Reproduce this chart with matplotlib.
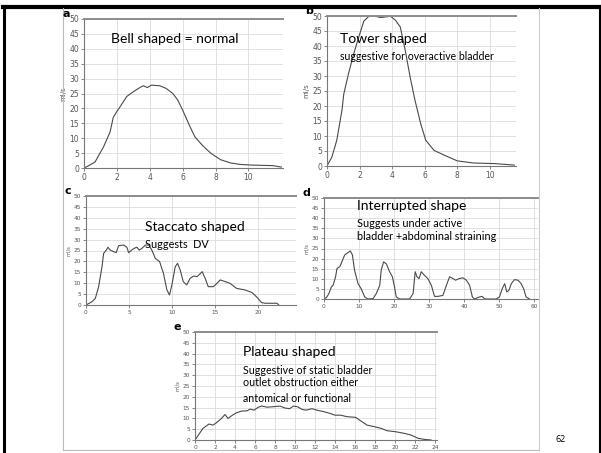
import matplotlib
matplotlib.use("Agg")
import matplotlib.pyplot as plt
from matplotlib.lines import Line2D

# ── Data ──────────────────────────────────────────────────────────────────────

bell_t = [0, 0.26, 0.67, 1.18, 1.58, 1.78, 2.0, 2.19, 2.6, 3.0, 3.4, 3.6, 3.85,
          4.1, 4.6, 5.0, 5.4, 5.7, 6.0, 6.45, 6.75, 7.2, 7.7, 8.3, 8.9, 9.5,
          10.1, 10.7, 11.5, 12.0]
bell_q = [0, 0.7, 2, 7, 12, 17, 19, 20.5, 24, 25.6, 27, 27.6, 27, 27.8, 27.6,
          26.7, 25, 22.8, 19.4, 13.8, 10.4, 7.6, 5, 2.8, 1.7, 1.2, 1, 0.9, 0.8,
          0.3]

tower_t = [0, 0.3, 0.6, 0.92, 1.03, 1.33, 1.64, 1.95, 2.26, 2.57, 2.87, 3.3,
           3.9, 4.2, 4.5, 4.8, 5.1, 5.4, 5.75, 6.06, 6.57, 7.2, 8.0, 9.0, 10.3,
           11.5]
tower_q = [0, 3, 8.6, 18.6, 24, 31, 37.4, 43, 48.3, 49.9, 50, 49.5, 49.9, 48.6,
           46.3, 38.6, 29.7, 21.9, 14.1, 8.6, 5.2, 3.6, 1.7, 1, 0.8, 0.3]

stacc_t = [0, 0.7, 1.08, 1.47, 1.86, 2.05, 2.36, 2.55, 2.82, 3.2, 3.5, 3.8, 4.4,
           4.75, 4.95, 5.3, 5.6, 5.9, 6.2, 6.5, 6.9, 7.3, 7.65, 8.05, 8.55, 9.0,
           9.4, 9.7, 9.98, 10.37, 10.64, 10.95, 11.3, 11.7, 12.1, 12.5, 12.9,
           13.3, 13.5, 13.85, 14.2, 14.8, 15.2, 15.6, 16.2, 16.75, 17.5, 18.5,
           19.3, 19.8, 20.4, 20.8, 22.2, 22.4]
stacc_q = [0, 1.5, 3, 8.4, 17.6, 23.7, 25.2, 26.5, 25.2, 24.5, 24, 27.2, 27.5,
           26.5, 24, 25.2, 26, 26.5, 25.2, 26, 27.5, 27.5, 25.2, 21.4, 19.9,
           14.5, 6.9, 4.6, 9.2, 17.6, 19.1, 16, 10.7, 9.2, 12.2, 13.3, 13, 14.5,
           15.3, 12.2, 8.4, 8.4, 9.9, 11.5, 10.7, 9.9, 7.6, 6.9, 5.7, 3.8, 1.1,
           0.8, 0.8, 0]

inter_t = [0, 0.7, 1.4, 2.1, 2.6, 3.3, 3.7, 4.5, 5.1, 5.9, 6.8, 7.5, 8.1, 8.7,
           9.7, 10.6, 11.6, 12.5, 14, 14.9, 15.9, 16.3, 17, 17.8, 18.7, 19.5,
           20.1, 20.6, 21.6, 24.4, 25.4, 26, 26.5, 27.1, 27.7, 28.6, 29.6, 30.6,
           31.5, 32.5, 33.9, 34.9, 35.8, 36.8, 37.5, 38.5, 39.6, 40.6, 41.5,
           42.3, 42.9, 44.3, 45.1, 45.8, 49.1, 50, 50.8, 51.5, 52.1, 52.7, 53.4,
           54.3, 55.3, 56.2, 56.9, 57.6, 58.6]
inter_q = [0, 0.7, 2.7, 6, 6.8, 11, 15.1, 16, 18.4, 21.8, 22.9, 23.8, 21.8,
           14.3, 7.6, 5.1, 1, 0, 0.2, 2.7, 6.8, 14.3, 18.4, 17.3, 13.5, 11, 6,
           1, 0, 0, 2.7, 13.5, 11, 10.1, 13.5, 11.8, 10.1, 6.8, 1.3, 1.3, 1.8,
           6.8, 11, 10.1, 9.3, 10.1, 10.5, 9.3, 6.8, 1, 0, 1, 1.3, 0, 0, 1, 5.1,
           7.6, 3.5, 4.3, 7.6, 9.6, 9.3, 7.6, 5.1, 1, 0]

plat_t = [0, 0.8, 1.4, 1.8, 2.15, 2.65, 3.0, 3.3, 3.75, 4.15, 4.66, 5.2, 5.5,
          5.9, 6.3, 6.67, 7.2, 7.8, 8.5, 9.0, 9.45, 9.85, 10.25, 10.7, 11.1,
          11.7, 12.2, 12.9, 13.5, 14.0, 14.55, 15.2, 16.05, 16.56, 17.2, 17.9,
          18.6, 19.2, 20.1, 20.9, 21.6, 22.3, 22.9, 23.6]
plat_q = [0, 5.4, 7.4, 6.9, 8, 10, 11.8, 10, 11.5, 12.6, 13.4, 13.5, 14.3, 13.8,
          15.1, 15.7, 15.2, 15.4, 15.7, 14.8, 14.5, 15.7, 15.4, 14.2, 13.8, 14.5,
          13.8, 13.1, 12.3, 11.5, 11.5, 10.8, 10.5, 8.9, 6.9, 6.2, 5.4, 4.3, 3.8,
          3.1, 2.3, 0.8, 0.3, 0]

# ── Figure and slide frame ────────────────────────────────────────────────────

W, H = 601, 453
fig = plt.figure(figsize=(W / 100, H / 100), dpi=100)

def px_line(xs, ys, color, lw):
    fig.add_artist(Line2D([x / W for x in xs], [1 - y / H for y in ys],
                          color=color, lw=lw, transform=fig.transFigure))

px_line([3.5, 3.5], [6, 453], "black", 2.2)       # outer slide border
px_line([599.5, 599.5], [6, 453], "black", 1.5)
px_line([3, 600], [7, 7], "black", 3)
px_line([63, 63], [8, 450], "#bbbbbb", 0.8)       # picture frame
px_line([539, 539], [8, 450], "#cccccc", 0.8)
px_line([63, 539], [450, 450], "#bbbbbb", 0.8)

fig.text(561 / W, 1 - 440 / H, "62", fontsize=6.5, family="Open Sans",
         ha="center", va="center")

# ── Panel helper ──────────────────────────────────────────────────────────────

def panel(box, t, q, xmax, xstep, letter, tick_fs):
    left, right, top, bottom = box
    ax = fig.add_axes([left / W, 1 - bottom / H, (right - left) / W,
                       (bottom - top) / H])
    ax.plot(t, q, color="#4a4a4a", lw=0.8)
    ax.set_xlim(0, xmax)
    ax.set_ylim(0, 50)
    ax.set_yticks(range(0, 51, 5))
    ax.set_xticks([v for v in range(0, int(xmax) + 1, xstep)])
    ax.grid(True, color="#dcdcdc", lw=0.6)
    ax.set_axisbelow(True)
    ax.spines["right"].set_visible(False)
    ax.spines["top"].set_color("#8c8c8c")
    ax.spines["top"].set_linewidth(1.4)
    for s in ("left", "bottom"):
        ax.spines[s].set_color("#777777")
        ax.spines[s].set_linewidth(0.8)
    ax.tick_params(labelsize=tick_fs, colors="#555555", length=2, width=0.5,
                   pad=1.5)
    ax.set_ylabel("ml/s", fontsize=tick_fs - 0.5, color="#555555", labelpad=2)
    fig.text((left - 18) / W, 1 - (top - 5) / H, letter, fontsize=8,
             fontweight="bold", ha="center", va="center")
    return ax

ax_a = panel((84, 283, 19, 168), bell_t, bell_q, 12.1, 2, "a", 5.5)
ax_a.set_xticks(range(0, 11, 2))
ax_b = panel((327, 516, 16, 166), tower_t, tower_q, 11.6, 2, "b", 5.5)
ax_c = panel((86, 296, 196, 305), stacc_t, stacc_q, 24.4, 5, "c", 4.2)
ax_d = panel((324, 538, 198, 299), inter_t, inter_q, 61, 10, "d", 4.2)
ax_e = panel((195, 437, 332, 440), plat_t, plat_q, 24.2, 2, "e", 4.2)

# ── Slide annotations ─────────────────────────────────────────────────────────

def note(x, y, s, fs):
    fig.text(x / W, 1 - y / H, s, fontsize=fs, family="Lato", va="center",
             ha="left")

note(111, 39, "Bell shaped = normal", 10)
note(340, 39, "Tower shaped", 10)
note(340, 56, "suggestive for overactive bladder", 7.6)
note(145, 227, "Staccato shaped", 10)
note(145, 244, "Suggests  DV", 7.8)
note(357, 206, "Interrupted shape", 10)
note(357, 223, "Suggests under active", 7.8)
note(357, 236, "bladder +abdominal straining", 7.8)
note(243, 352, "Plateau shaped", 10)
note(243, 371, "Suggestive of static bladder", 7.7)
note(243, 383, "outlet obstruction either", 7.7)
note(243, 399, "antomical or functional", 7.7)

plt.savefig("out.png", dpi=100)
